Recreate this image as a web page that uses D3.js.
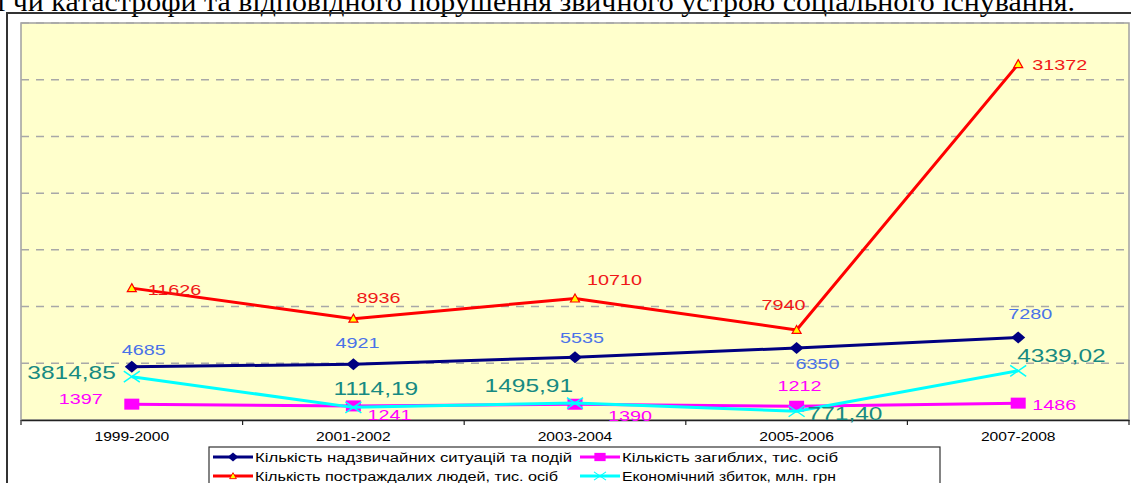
<!DOCTYPE html>
<html>
<head>
<meta charset="utf-8">
<script src="https://cdn.jsdelivr.net/npm/d3@7"></script>
<style>
  html, body { margin: 0; padding: 0; background: #ffffff; }
  svg { display: block; }
  text { font-family: "Liberation Sans", Arial, sans-serif; }
</style>
</head>
<body>
<svg id="chart" width="1131" height="483"></svg>
<script>
// ---------------- DATA ----------------
const categories = ["1999-2000", "2001-2002", "2003-2004", "2005-2006", "2007-2008"];
const emergencies = [4685, 4921, 5535, 6350, 7280];          // Кількість надзвичайних ситуацій та подій
const deaths      = [1397, 1241, 1390, 1212, 1486];          // Кількість загиблих, тис. осіб
const injured     = [11626, 8936, 10710, 7940, 31372];       // Кількість постраждалих людей, тис. осіб
const damage      = [3814.85, 1114.19, 1495.91, 771.40, 4339.02]; // Економічний збиток, млн. грн
const seriesNames = [
  "Кількість надзвичайних ситуацій та подій",
  "Кількість загиблих, тис. осіб",
  "Кількість постраждалих людей, тис. осіб",
  "Економічний збиток, млн. грн"
];
const yTicks = [0, 5000, 10000, 15000, 20000, 25000, 30000, 35000];
const headerText = "ї чи катастрофи та відповідного порушення звичного устрою соціального існування.";

// ---------------- LAYOUT ----------------
const svg = d3.select("#chart");
const plot = { left: 21, right: 1129, top: 23, bottom: 420 };

const x = d3.scaleBand().domain(categories).range([plot.left, plot.right]).padding(0);
const y = d3.scaleLinear().domain([0, 35000]).range([plot.bottom, plot.top]);
const cx = c => x(c) + x.bandwidth() / 2;

// header text (cut off at the top, as in the source page)
svg.append("text")
  .attr("x", -3).attr("y", 11)
  .attr("textLength", 1078).attr("lengthAdjust", "spacingAndGlyphs")
  .style("font-family", "'Liberation Serif', 'Times New Roman', serif")
  .style("font-size", "27px")
  .attr("fill", "#000")
  .text(headerText);

// outer chart frame
svg.append("path")
  .attr("d", `M7,${483 + 5} L7,13 L${1131 + 5},13`)
  .attr("fill", "none").attr("stroke", "#333").attr("stroke-width", 2);

// plot area background
svg.append("rect")
  .attr("x", plot.left).attr("y", plot.top)
  .attr("width", plot.right - plot.left).attr("height", plot.bottom - plot.top)
  .attr("fill", "#ffffcc").attr("stroke", "#a0a0a0").attr("stroke-width", 1.5);

// gridlines
svg.append("g").selectAll("line")
  .data(yTicks.filter(t => t > 0))
  .join("line")
  .attr("x1", plot.left).attr("x2", plot.right)
  .attr("y1", d => y(d)).attr("y2", d => y(d))
  .attr("stroke", "#a8a8a8").attr("stroke-width", 1.5)
  .attr("stroke-dasharray", "8,7");

// x axis
const xAxis = d3.axisBottom(x).tickSize(0).tickPadding(12);
const gx = svg.append("g").attr("transform", `translate(0,${plot.bottom})`).call(xAxis);
gx.select(".domain").attr("stroke", "#222").attr("stroke-width", 1.5);
gx.selectAll(".tick text")
  .style("font-size", "12.5px").attr("fill", "#000")
  .attr("x", 0)
  .attr("transform", "scale(1.25,1)");
// tick marks at category boundaries
const boundaries = categories.map(c => x(c)).concat([plot.right]);
gx.selectAll("line.bnd").data(boundaries).join("line")
  .attr("class", "bnd")
  .attr("x1", d => d).attr("x2", d => d)
  .attr("y1", 0).attr("y2", 5)
  .attr("stroke", "#222").attr("stroke-width", 1.2);

// ---------------- SERIES ----------------
const markers = {
  diamond: g => g.append("path").attr("d", "M0,-6L7,0L0,6L-7,0Z").attr("fill", "#000080"),
  square: g => g.append("rect").attr("x", -7.5).attr("y", -5.5).attr("width", 15).attr("height", 11).attr("fill", "#ff00ff"),
  triangle: g => g.append("path").attr("d", "M0,-4.5L4.5,3.5L-4.5,3.5Z").attr("fill", "#ffff00").attr("stroke", "#ff0000").attr("stroke-width", 1.2),
  cross: g => g.append("path").attr("d", "M-8,-5.5L8,5.5M-8,5.5L8,-5.5").attr("fill", "none").attr("stroke", "#00ffff").attr("stroke-width", 1.5)
};

const series = [
  { values: emergencies, color: "#000080", marker: "diamond", labelColor: "#4a72e8", fontSize: 15, sx: 1.32,
    fmt: d => String(d),
    offsets: [["start", -10, -17], ["start", -18, -22], ["start", -15, -20], ["start", -1, 16], ["start", -10, -24]] },
  { values: deaths, color: "#ff00ff", marker: "square", labelColor: "#ff00ff", fontSize: 15, sx: 1.32,
    fmt: d => String(d),
    offsets: [["end", -29, -6], ["start", 14, 9], ["start", 33, 11], ["start", -19, -21], ["start", 14, 1]] },
  { values: injured, color: "#ff0000", marker: "triangle", labelColor: "#f01818", fontSize: 15, sx: 1.32,
    fmt: d => String(d),
    offsets: [["start", 16, 1], ["start", 3, -21], ["start", 12, -19], ["end", 9, -25], ["start", 14, 0]] },
  { values: damage, color: "#00ffff", marker: "cross", labelColor: "#178a82", fontSize: 18, sx: 1.36,
    fmt: d => d3.format(".2f")(d).replace(".", ","),
    offsets: [["end", -16, -4], ["start", -20, -19], ["end", -2, -18], ["start", 11, 2], ["start", -1, -15]] }
];

const line = d3.line().x((d, i) => cx(categories[i])).y(d => y(d));

series.forEach(s => {
  svg.append("path")
    .datum(s.values)
    .attr("d", line)
    .attr("fill", "none")
    .attr("stroke", s.color)
    .attr("stroke-width", 3)
    .attr("stroke-linejoin", "round");
  s.values.forEach((v, i) => {
    const g = svg.append("g").attr("transform", `translate(${cx(categories[i])},${y(v)})`);
    markers[s.marker](g);
  });
});

// data labels
series.forEach(s => {
  s.values.forEach((v, i) => {
    const [anchor, dx, dy] = s.offsets[i];
    svg.append("g")
      .attr("transform", `translate(${cx(categories[i]) + dx},${y(v) + dy})`)
      .append("text")
      .attr("transform", `scale(${s.sx},1)`)
      .attr("text-anchor", anchor)
      .attr("dy", "0.36em")
      .style("font-size", s.fontSize + "px")
      .attr("fill", s.labelColor)
      .text(s.fmt(v));
  });
});

// ---------------- LEGEND ----------------
const legend = svg.append("g");
legend.append("rect")
  .attr("x", 209).attr("y", 447).attr("width", 731).attr("height", 60)
  .attr("fill", "#fff").attr("stroke", "#333").attr("stroke-width", 1.2);

const legendItems = [
  { s: series[0], name: seriesNames[0], lx: 213, ty: 457, len: 317 },
  { s: series[1], name: seriesNames[1], lx: 580, ty: 457, len: 216 },
  { s: series[2], name: seriesNames[2], lx: 213, ty: 476, len: 303 },
  { s: series[3], name: seriesNames[3], lx: 580, ty: 476, len: 214 }
];
legendItems.forEach(it => {
  const g = legend.append("g").attr("transform", `translate(${it.lx},${it.ty})`);
  g.append("line").attr("x1", 0).attr("x2", 40).attr("y1", 0).attr("y2", 0)
    .attr("stroke", it.s.color).attr("stroke-width", 3);
  const m = g.append("g").attr("transform", "translate(20,0) scale(0.75)");
  markers[it.s.marker](m);
  g.append("text")
    .attr("x", 42).attr("dy", "0.36em")
    .attr("textLength", it.len).attr("lengthAdjust", "spacingAndGlyphs")
    .style("font-size", "12.5px").attr("fill", "#000")
    .text(it.name);
});
</script>
</body>
</html>
